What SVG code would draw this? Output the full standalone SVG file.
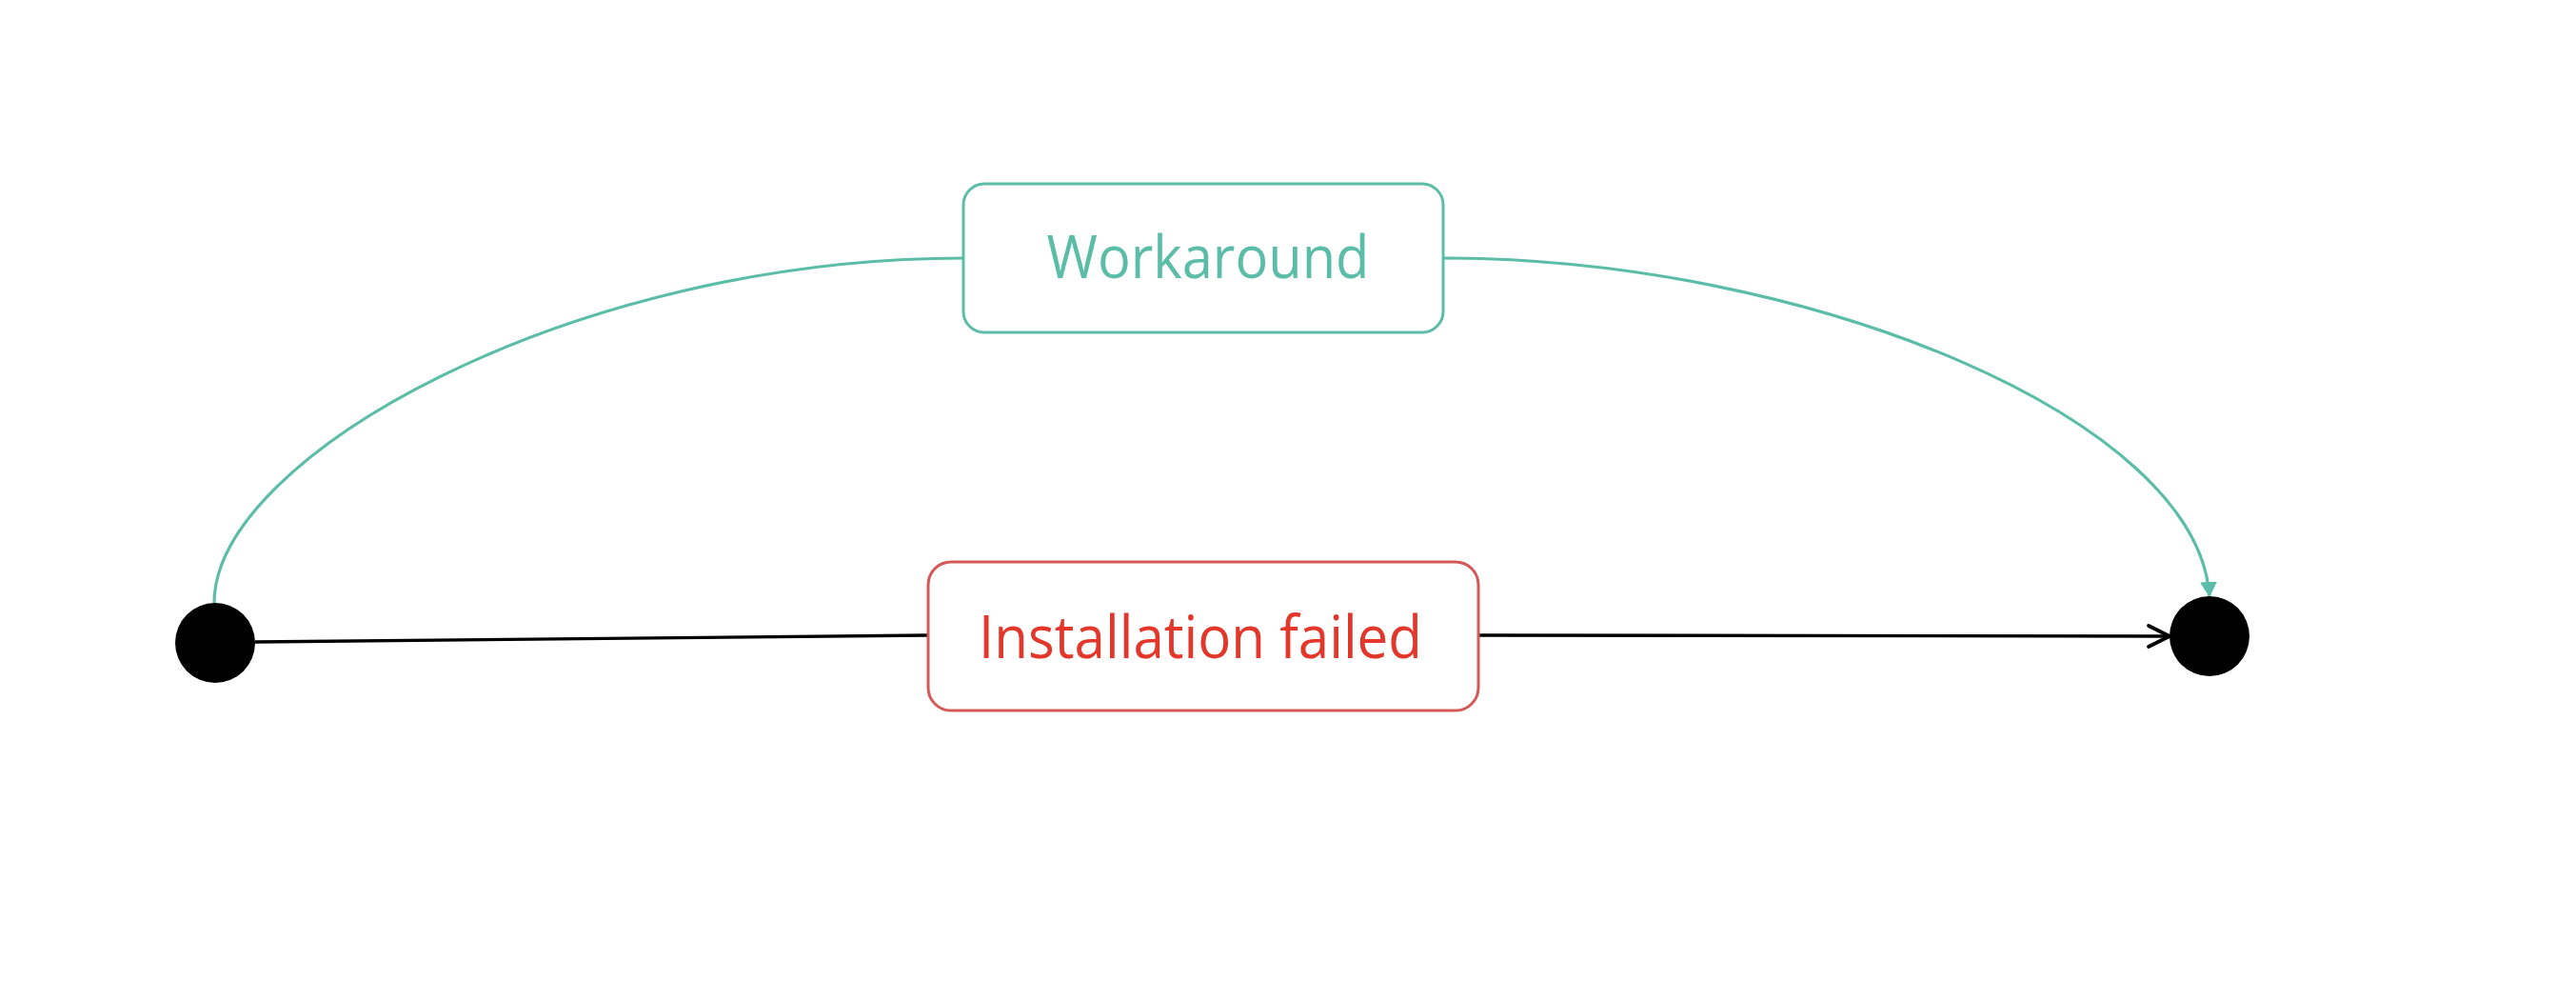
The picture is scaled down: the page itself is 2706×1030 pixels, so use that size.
<svg xmlns="http://www.w3.org/2000/svg" width="2706" height="1030" viewBox="0 0 2706 1030">
<style>
.teal{stroke:#5bbda8;fill:none;stroke-width:3.2}
.blk{stroke:#000;fill:none;stroke-width:3.4}
.box{fill:#fff;stroke-width:3}
.lbl{font-family:"Open Sans","Noto Sans","Liberation Sans",sans-serif;font-size:63px;font-weight:500;text-anchor:middle}
</style>
<defs>
<marker id="tealArrow" markerUnits="userSpaceOnUse" viewBox="0 0 16 18" markerWidth="16" markerHeight="18" refX="16" refY="9" orient="auto">
<path d="M0,0 L16,9 L0,18 z" fill="#5bbda8"/>
</marker>
<marker id="openArrow" markerUnits="userSpaceOnUse" viewBox="-26 -14 30 28" markerWidth="30" markerHeight="28" refX="0" refY="0" orient="auto">
<path d="M-22,-11 L0,0 L-22,11" fill="none" stroke="#000" stroke-width="3.8" stroke-linecap="round" stroke-linejoin="round"/>
</marker>
</defs>
<rect width="2706" height="1030" fill="#fff"/>
<g id="connectors">
<path class="teal" d="M225,633 C225,480 600,271 1012,271"/>
<path class="teal" d="M1516,271 C1900,271 2310,440 2321,627" marker-end="url(#tealArrow)"/>
<path class="blk" d="M268,674 L975,667"/>
<path class="blk" d="M1553,667 L2279,668" marker-end="url(#openArrow)"/>
</g>
<g id="start">
<circle cx="226" cy="675" r="42" fill="#000"/>
</g>
<g id="end">
<circle cx="2321" cy="668" r="42" fill="#000"/>
</g>
<g id="workaround">
<rect class="box" x="1012" y="193" width="504" height="156" rx="22" ry="22" stroke="#5bbda8"/>
<text class="lbl" x="1269" y="292" fill="#5bbda8" textLength="339" lengthAdjust="spacingAndGlyphs">Workaround</text>
</g>
<g id="installation-failed">
<rect class="box" x="975" y="590" width="578" height="156" rx="24" ry="24" stroke="#d35a58"/>
<text class="lbl" x="1261" y="691" fill="#e3372b" textLength="466" lengthAdjust="spacingAndGlyphs">Installation failed</text>
</g>
</svg>
